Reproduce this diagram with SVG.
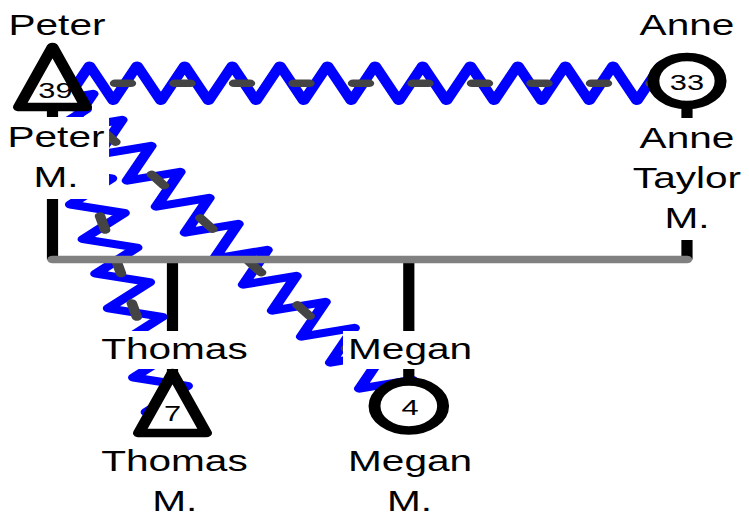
<svg xmlns="http://www.w3.org/2000/svg" width="749" height="518" viewBox="0 0 749 518">
<style>
.zz{fill:none;stroke:#0000ff;stroke-width:8;stroke-linejoin:round;stroke-linecap:round}
.ds{fill:none;stroke:#444444;stroke-width:7.5;stroke-linecap:round}
.vl{stroke:#000000;stroke-width:8}
.fl{stroke:#808080;stroke-width:7.5;stroke-linecap:round}
.nd{fill:#ffffff;stroke:#000000;stroke-width:8.5;stroke-linejoin:round}
.bg{fill:#ffffff}
text{font-family:"Liberation Sans",Arial,sans-serif;fill:#000000;text-anchor:middle}
.t{font-size:29px}
.n{font-size:22px}
</style>
<rect width="749" height="518" fill="#ffffff"/>
<g transform="scale(1.4,1)">
<g id="connectors">
<polyline class="zz" points="37.5,83.3 46.93,101 63.93,65.6 80.93,101 97.93,65.6 114.93,101 131.93,65.6 148.93,101 165.93,65.6 182.93,101 199.93,65.6 216.93,101 233.93,65.6 250.93,101 267.93,65.6 284.93,101 301.93,65.6 318.93,101 335.93,65.6 352.93,101 369.93,65.6 386.93,101 403.93,65.6 420.93,101 437.93,65.6 454.93,101 471.93,65.6 490.7,83.3"/>
<line class="ds" x1="39.66" y1="83.3" x2="490.7" y2="83.3" stroke-dasharray="11.4 31.1"/>
<polyline class="zz" points="36,80 23.33,100.74 61.69,109.22 32.34,135.34 70.71,143.81 41.36,169.93 79.73,178.41 50.37,204.53 88.74,213 59.39,239.12 97.76,247.6 68.41,273.71 106.77,282.19 77.42,308.31 115.79,316.79 86.44,342.9 124.81,351.38 95.45,377.5 133.82,385.98 104.47,412.1 122,410"/>
<line class="ds" x1="36" y1="80" x2="122" y2="410" stroke-dasharray="14.5 30.45" stroke-dashoffset="39.25"/>
<polyline class="zz" points="33,80 28.69,102.66 66.42,93.84 49.43,128.66 87.16,119.84 70.17,154.67 107.89,145.85 90.9,180.67 128.63,171.85 111.64,206.67 149.37,197.85 132.38,232.67 170.11,223.86 153.12,258.68 190.85,249.86 173.85,284.68 211.58,275.86 194.59,310.68 232.32,301.86 215.33,336.68 253.06,327.87 236.07,362.69 273.8,353.87 256.81,388.69 294.53,379.87 277.54,414.69 292,406"/>
<line class="ds" x1="33" y1="80" x2="293" y2="406" stroke-dasharray="14 41.64" stroke-dashoffset="46.01"/>
<line class="vl" x1="37.5" y1="107" x2="37.5" y2="259.5"/>
<line class="vl" x1="490.7" y1="105" x2="490.7" y2="259.5"/>
<line class="vl" x1="123.2" y1="259.5" x2="123.2" y2="373"/>
<line class="vl" x1="292" y1="259.5" x2="292" y2="381.5"/>
<line class="fl" x1="37.5" y1="259.5" x2="490.7" y2="259.5"/>
</g>
<g id="peter">
<text class="t" x="40.7" y="35">Peter</text>
<rect class="bg" x="2.1" y="117" width="75.8" height="82"/>
<text class="t" x="40" y="147">Peter</text>
<text class="t" x="40" y="187">M.</text>
<polygon class="nd" points="37.5,47 13.5,107 61.5,107"/>
<text class="n" x="39.6" y="98.5">39</text>
</g>
<g id="anne">
<text class="t" x="490.7" y="35">Anne</text>
<rect class="bg" x="446.5" y="118" width="88" height="122"/>
<text class="t" x="490.7" y="148">Anne</text>
<text class="t" x="490.7" y="188">Taylor</text>
<text class="t" x="490.7" y="228">M.</text>
<circle class="nd" cx="490.7" cy="81" r="24"/>
<text class="n" x="490.7" y="90">33</text>
</g>
<g id="thomas">
<rect class="bg" x="69" y="331" width="112" height="38"/>
<text class="t" x="124.6" y="359">Thomas</text>
<rect class="bg" x="69" y="443" width="112" height="78"/>
<text class="t" x="124.6" y="471">Thomas</text>
<text class="t" x="124.8" y="511">M.</text>
<polygon class="nd" points="123.2,373 99.2,433 147.2,433"/>
<text class="n" x="123.2" y="421">7</text>
</g>
<g id="megan">
<rect class="bg" x="245" y="331" width="96" height="38"/>
<text class="t" x="292.9" y="359">Megan</text>
<rect class="bg" x="245" y="443" width="96" height="78"/>
<text class="t" x="292.9" y="471">Megan</text>
<text class="t" x="292.5" y="511">M.</text>
<circle class="nd" cx="292" cy="406" r="24.5"/>
<text class="n" x="292.9" y="415">4</text>
</g>
</g>
</svg>
